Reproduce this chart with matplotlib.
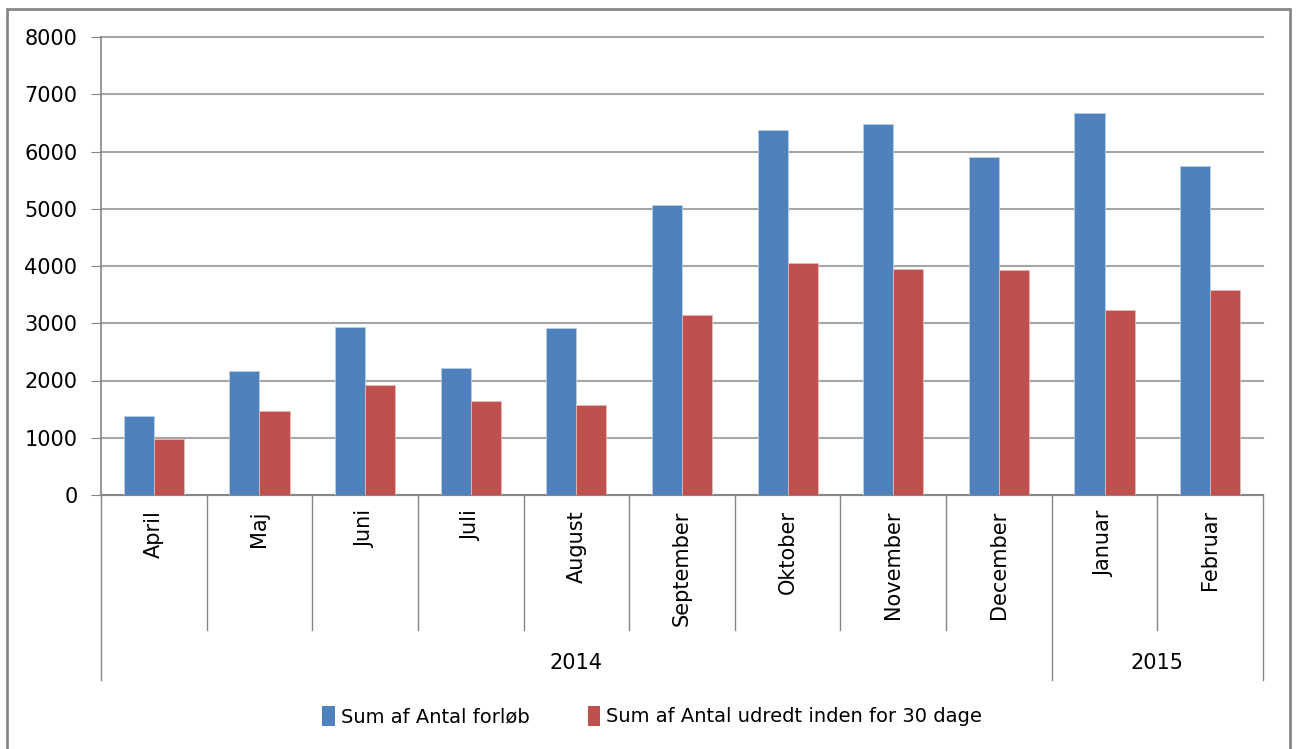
import numpy as np
import matplotlib
matplotlib.use("Agg")
import matplotlib.pyplot as plt
from matplotlib.patches import Patch, Rectangle
import matplotlib.transforms as mtransforms

months = ["April", "Maj", "Juni", "Juli", "August", "September",
          "Oktober", "November", "December", "Januar", "Februar"]
years = ["2014", "2015"]
year_counts = [9, 2]
forloeb = [1385, 2165, 2938, 2222, 2920, 5073, 6370, 6481, 5899, 6673, 5748]
udredt = [970, 1466, 1926, 1646, 1576, 3136, 4061, 3956, 3933, 3240, 3583]
series_names = ["Sum af Antal forløb", "Sum af Antal udredt inden for 30 dage"]

blue = "#4F81BD"
red = "#C0504D"
grid_c = "#A6A6A6"

plt.rcParams['font.family'] = ['DejaVu Sans']

fig = plt.figure(figsize=(12.98, 7.49), dpi=100)
ax = fig.add_axes([101/1298, 1-495/749, (1263-101)/1298, (495-37)/749])

x = np.arange(len(months))
w = 0.285
ax.bar(x - w/2, forloeb, w, color=blue, edgecolor="#B9CDE5", linewidth=0.6, zorder=3)
ax.bar(x + w/2, udredt, w, color=red, edgecolor="#E6B9B8", linewidth=0.6, zorder=3)

ax.set_xlim(-0.5, len(months) - 0.5)
ax.set_ylim(0, 8000)
ax.set_yticks(range(0, 8001, 1000))
ax.yaxis.grid(True, color=grid_c, linewidth=1.5, zorder=0)
for gl in ax.get_ygridlines():
    gl.set_clip_on(False)
ax.tick_params(axis='y', length=7, color="#868686", pad=10, labelsize=15)
ax.tick_params(axis='x', length=0, pad=11, labelsize=15)
ax.set_xticks(x)
ax.set_xticklabels(months, rotation=90, va='top')
for s in ["top", "right"]:
    ax.spines[s].set_visible(False)
ax.spines["left"].set_color("#868686")
ax.spines["bottom"].set_color("#868686")
ax.spines["left"].set_linewidth(1.2)
ax.spines["bottom"].set_linewidth(1.5)

# category separators below the axis
trans = mtransforms.blended_transform_factory(ax.transData, ax.transAxes)
y_month = (495 - 630) / 458
y_year = (495 - 680) / 458
bounds = np.arange(len(months) + 1) - 0.5
year_edges = np.concatenate([[0], np.cumsum(year_counts)]) - 0.5
for b in bounds:
    low = y_year if b in year_edges else y_month
    ax.plot([b, b], [0, low], transform=trans, color="#868686",
            linewidth=1.0, clip_on=False)

# year labels
for i, yr in enumerate(years):
    cx = (year_edges[i] + year_edges[i+1]) / 2
    ax.text(cx, (495 - 663) / 458, yr, transform=trans, ha='center',
            va='center', fontsize=15)

# legend
handles = [Patch(facecolor=blue), Patch(facecolor=red)]
fig.legend(handles, series_names, loc='center', bbox_to_anchor=(652/1298, 1-716/749),
           ncol=2, frameon=False, fontsize=14, handlelength=0.65, handleheight=1.2,
           handletextpad=0.3, columnspacing=3.0)

# outer chart border
fig.patches.append(Rectangle((7/1298, -0.01), (1290-7)/1298, 1.01 - 9/749,
                             transform=fig.transFigure, fill=False,
                             edgecolor="#878787", linewidth=2))

fig.savefig("out.png", dpi=100)
